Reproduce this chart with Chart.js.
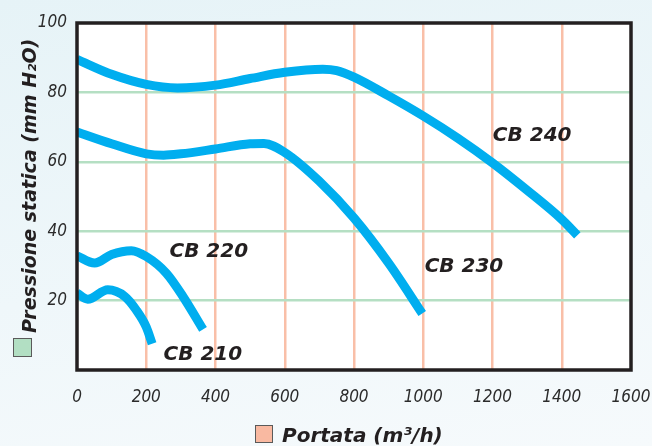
<!DOCTYPE html>
<html>
<head>
<meta charset="utf-8">
<script src="https://cdn.jsdelivr.net/npm/chart.js@4"></script>
<style>
  html, body { margin: 0; padding: 0; }
  body {
    width: 652px; height: 446px; overflow: hidden;
    background: linear-gradient(170deg, #e6f3f7 0%, #eff7fa 55%, #f6fafc 100%);
  }
  #wrap { position: relative; width: 652px; height: 446px; }
</style>
</head>
<body>
<div id="wrap"><canvas id="fanChart" width="652" height="446"></canvas></div>
<script>
// curve CB 210
const cb210X = [0, 31, 89, 138, 171, 200, 217];
const cb210Y = [22.1, 20.4, 23.1, 21.2, 17.3, 12.4, 7.6];
// curve CB 220
const cb220X = [0, 51, 100, 157, 200, 258, 306, 364];
const cb220Y = [32.9, 30.8, 33.3, 34.4, 32.7, 27.9, 21.2, 11.7];
// curve CB 230
const cb230X = [0, 100, 200, 250, 300, 400, 500, 540, 600, 700, 800, 900, 997];
const cb230Y = [68.6, 65.2, 62.3, 61.9, 62.3, 63.7, 65.2, 65.3, 62.7, 54.4, 43.8, 30.8, 16.3];
// curve CB 240
const cb240X = [0, 100, 200, 290, 400, 500, 600, 710, 750, 800, 900, 1000, 1100, 1200, 1300, 1400, 1445];
const cb240Y = [89.5, 85.2, 82.3, 81.3, 82.1, 84.0, 85.8, 86.7, 86.3, 84.4, 79.0, 73.2, 66.8, 59.7, 51.8, 43.4, 38.8];

const curveNames = ['CB 210', 'CB 220', 'CB 230', 'CB 240'];
// label anchor (data coords)
const labelX = [250, 267, 1004, 1201];
const labelY = [4.4, 34.2, 29.8, 67.6];

const xTicks = [0, 200, 400, 600, 800, 1000, 1200, 1400, 1600];
const yTicks = [20, 40, 60, 80, 100];

const yTitle = 'Pressione statica (mm H\u2082O)';
const xTitle = 'Portata (m\u00b3/h)';

function toPoints(xs, ys) {
  return xs.map((x, i) => ({ x: x, y: ys[i] }));
}

// pick the first installed narrow font
function pickFont(list, fallback) {
  const c = document.createElement('canvas').getContext('2d');
  const probe = '1000 1200 1400';
  c.font = '40px monospace';
  const base = c.measureText(probe).width;
  for (const f of list) {
    c.font = '40px "' + f + '", monospace';
    if (Math.abs(c.measureText(probe).width - base) > 0.5) return '"' + f + '"';
  }
  return fallback;
}

const allX = [cb210X, cb220X, cb230X, cb240X];
const allY = [cb210Y, cb220Y, cb230Y, cb240Y];

const tickFamily = pickFont(['DejaVu Sans Condensed', 'Liberation Sans Narrow', 'Roboto Condensed'], 'Roboto, sans-serif');
const tickFont = { family: tickFamily, size: 17, style: 'italic' };

// white plot area + black frame
const framePlugin = {
  id: 'frame',
  beforeDraw(chart) {
    const a = chart.chartArea, ctx = chart.ctx;
    ctx.save();
    ctx.fillStyle = '#ffffff';
    ctx.fillRect(a.left, a.top, a.right - a.left, a.bottom - a.top);
    ctx.restore();
  },
  afterDatasetsDraw(chart) {
    const a = chart.chartArea, ctx = chart.ctx;
    ctx.save();
    ctx.strokeStyle = '#231f20';
    ctx.lineWidth = 3.5;
    ctx.strokeRect(a.left, a.top, a.right - a.left, a.bottom - a.top);

    // curve names
    ctx.fillStyle = '#231f20';
    ctx.font = 'italic bold 20px "DejaVu Sans", sans-serif';
    ctx.textAlign = 'left';
    ctx.textBaseline = 'middle';
    const xs = chart.scales.x, ys = chart.scales.y;
    curveNames.forEach((n, i) => {
      ctx.fillText(n, xs.getPixelForValue(labelX[i]), ys.getPixelForValue(labelY[i]));
    });

    // axis titles with small coloured squares
    ctx.textBaseline = 'alphabetic';
    // x title
    ctx.fillStyle = '#f9b9a1';
    ctx.fillRect(255, 425, 18, 18);
    ctx.strokeStyle = '#5a5a5a';
    ctx.lineWidth = 1;
    ctx.strokeRect(255.5, 425.5, 17, 17);
    ctx.fillStyle = '#231f20';
    ctx.font = 'italic bold 20px "DejaVu Sans", sans-serif';
    ctx.fillText(xTitle, 282, 442);
    // y title (rotated)
    ctx.save();
    ctx.translate(0, 446);
    ctx.rotate(-Math.PI / 2);
    // in rotated frame: x = distance from bottom, y = distance from left
    ctx.fillStyle = '#b2dfc3';
    ctx.fillRect(89, 13, 19, 19);
    ctx.strokeStyle = '#5a5a5a';
    ctx.strokeRect(89.5, 13.5, 18, 18);
    ctx.fillStyle = '#231f20';
    ctx.font = 'italic bold 19px "DejaVu Sans", sans-serif';
    ctx.fillText(yTitle, 113, 36);
    ctx.restore();
    ctx.restore();
  }
};

const ctx = document.getElementById('fanChart').getContext('2d');
const fanChart = new Chart(ctx, {
  type: 'scatter',
  data: {
    datasets: curveNames.map((n, i) => ({
      label: n,
      data: toPoints(allX[i], allY[i]),
      showLine: true,
      borderColor: '#00aeef',
      backgroundColor: '#00aeef',
      borderWidth: 9,
      borderCapStyle: 'butt',
      pointRadius: 0,
      cubicInterpolationMode: 'monotone'
    }))
  },
  options: {
    responsive: false,
    animation: false,
    layout: { padding: { left: 0, top: 23, right: 21, bottom: 0 } },
    plugins: { legend: { display: false }, tooltip: { enabled: false } },
    scales: {
      x: {
        type: 'linear',
        min: 0,
        max: 1600,
        afterBuildTicks: s => { s.ticks = xTicks.map(v => ({ value: v })); },
        afterFit: s => { s.height = 76; s.paddingLeft = 0; s.paddingRight = 0; },
        ticks: { font: tickFont, color: '#2b2b2b', padding: 17, maxRotation: 0, autoSkip: false, callback: v => String(v) },
        grid: {
          drawTicks: false,
          color: c => (c.tick && (c.tick.value === 0 || c.tick.value === 1600)) ? 'rgba(0,0,0,0)' : '#f9bfa8',
          lineWidth: 2.5
        },
        border: { display: false }
      },
      y: {
        type: 'linear',
        min: 0,
        max: 100,
        afterBuildTicks: s => { s.ticks = [0].concat(yTicks).map(v => ({ value: v })); },
        afterFit: s => { s.width = 77; s.paddingTop = 0; s.paddingBottom = 0; },
        ticks: {
          font: tickFont,
          color: '#2b2b2b',
          padding: 10,
          autoSkip: false,
          callback: v => (yTicks.includes(v) ? String(v) : '')
        },
        grid: {
          drawTicks: false,
          color: c => (c.tick && (c.tick.value === 0 || c.tick.value === 100)) ? 'rgba(0,0,0,0)' : '#b5dfc3',
          lineWidth: 2.5
        },
        border: { display: false }
      }
    }
  },
  plugins: [framePlugin]
});
</script>
</body>
</html>
